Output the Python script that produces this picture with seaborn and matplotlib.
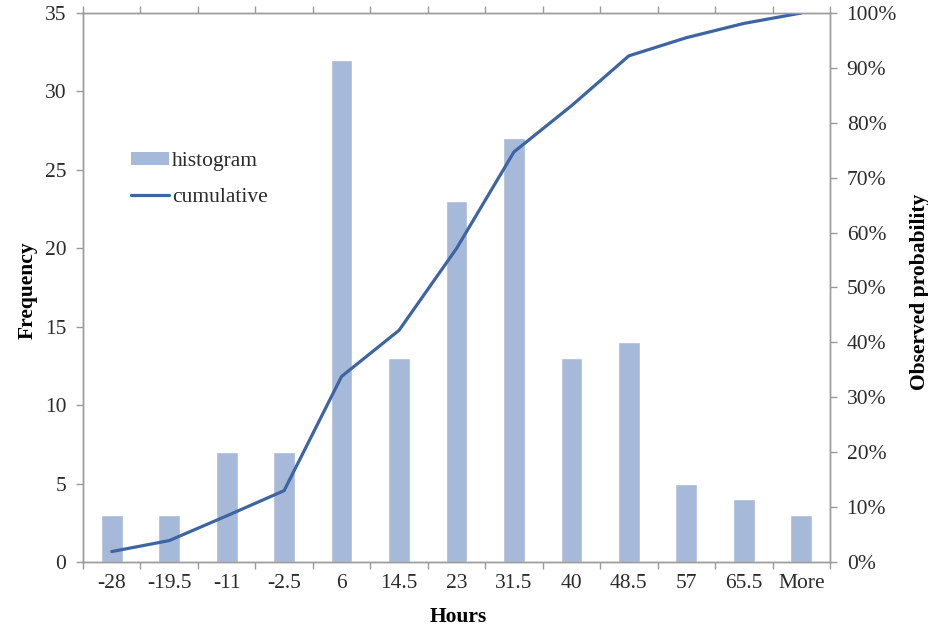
import numpy as np
import pandas as pd
import matplotlib
matplotlib.use("Agg")
import matplotlib.pyplot as plt
import seaborn as sns
from matplotlib.ticker import FixedLocator, PercentFormatter, MultipleLocator
from matplotlib.patches import Patch
from matplotlib.lines import Line2D

categories = ["-28", "-19.5", "-11", "-2.5", "6", "14.5", "23", "31.5", "40", "48.5", "57", "65.5", "More"]
frequency = [3, 3, 7, 7, 32, 13, 23, 27, 13, 14, 5, 4, 3]
cumulative = [0.019, 0.039, 0.084, 0.13, 0.338, 0.422, 0.571, 0.747, 0.831, 0.922, 0.955, 0.981, 1.0]

bar_color = "#a7b9d9"
line_color = "#3c65a1"
spine_color = "#9a9a9a"
text_color = "#2b2b2b"
fs = 15.5

sns.set_theme(style="white")
plt.rcParams["font.family"] = ["Liberation Serif", "DejaVu Serif"]

fig = plt.figure(figsize=(9.29, 6.27), dpi=100)
ax = fig.add_axes([83 / 929, 1 - 562 / 627, (830 - 83) / 929, (562 - 13) / 627])

df = pd.DataFrame({"Hours": categories, "Frequency": frequency})
sns.barplot(data=df, x="Hours", y="Frequency", order=categories, color=bar_color,
            saturation=1, width=0.38, ax=ax)
ax.set_xlim(-0.5, len(categories) - 0.5)
ax.set_ylim(0, 35)
ax.yaxis.set_major_locator(MultipleLocator(5))

ax2 = ax.twinx()
pos = np.arange(len(categories))
sns.lineplot(x=pos, y=cumulative, ax=ax2, color=line_color, linewidth=2.3)
ax2.set_ylim(0, 1)
ax2.yaxis.set_major_locator(MultipleLocator(0.1))
ax2.yaxis.set_major_formatter(PercentFormatter(1.0, decimals=0))

for a in (ax, ax2):
    for s in a.spines.values():
        s.set_color(spine_color)
        s.set_linewidth(1.0)

ax.tick_params(axis="x", which="major", length=0, labelsize=fs, labelcolor=text_color, pad=9)
ax.xaxis.set_minor_locator(FixedLocator(np.arange(-0.5, len(categories), 1)))
ax.tick_params(axis="x", which="minor", length=5, width=1, color=spine_color,
               direction="out", bottom=True, top=True)
ax.tick_params(axis="y", length=5, width=1, color=spine_color, direction="out",
               left=True, labelsize=fs, labelcolor=text_color, pad=7)
ax2.tick_params(axis="y", length=5, width=1, color=spine_color, direction="out",
                right=True, labelsize=fs, labelcolor=text_color, pad=7)

ax.set_xlabel("Hours", fontsize=fs, fontweight="bold", color="black", va="center", ha="center")
ax.set_ylabel("Frequency", fontsize=fs, fontweight="bold", color="black", va="center", ha="center")
ax2.set_ylabel("Observed probability", fontsize=fs, fontweight="bold", color="black",
               va="center", ha="center", rotation=90)
ax.xaxis.set_label_coords((458 - 83) / 747, (562 - 617) / 549)
ax.yaxis.set_label_coords((28 - 83) / 747, (562 - 290) / 549)
ax2.yaxis.set_label_coords((920 - 83) / 747, (562 - 292) / 549)

handles = [Patch(facecolor=bar_color, edgecolor="none"),
           Line2D([0], [0], color=line_color, linewidth=2.3)]
leg = ax2.legend(handles, ["histogram", "cumulative"], loc="upper left",
                 bbox_to_anchor=(112 / 929, 1 - 133 / 627), bbox_transform=fig.transFigure,
                 frameon=False, fontsize=fs, handlelength=1.75, handleheight=0.55,
                 handletextpad=0.15, labelspacing=0.75)
for t in leg.get_texts():
    t.set_color(text_color)

fig.savefig("out.png", dpi=100)
